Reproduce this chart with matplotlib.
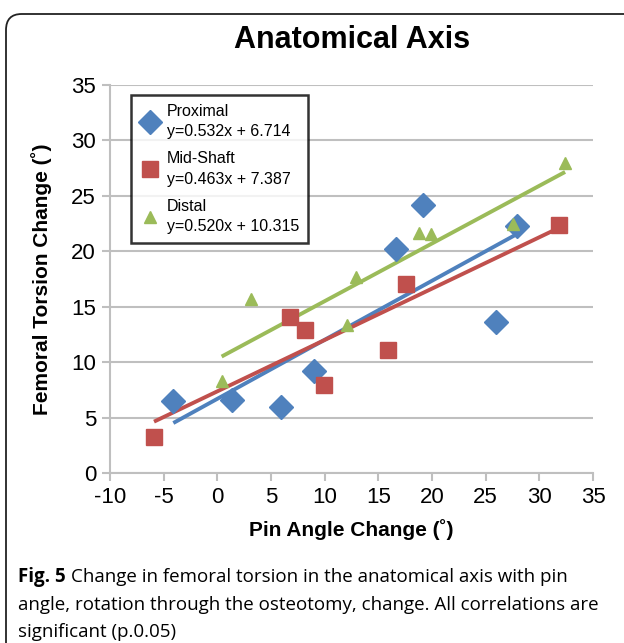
import numpy as np
import matplotlib
matplotlib.use('Agg')
import matplotlib.pyplot as plt
from matplotlib.patches import FancyBboxPatch

# data
prox_x = [-4.1, 1.4, 5.9, 9.0, 16.6, 19.2, 26.0, 27.9]
prox_y = [6.5, 6.6, 6.0, 9.2, 20.2, 24.2, 13.6, 22.3]
mid_x = [-5.9, 6.8, 8.2, 9.9, 15.9, 17.6, 31.8]
mid_y = [3.3, 14.1, 12.9, 8.0, 11.1, 17.1, 22.4]
dist_x = [0.4, 3.1, 12.1, 12.9, 18.8, 19.9, 27.5, 32.4]
dist_y = [8.3, 15.7, 13.4, 17.7, 21.7, 21.6, 22.5, 28.0]

# trendline coefficients (slope, intercept) from the legend
fits = {'Proximal': (0.532, 6.714), 'Mid-Shaft': (0.463, 7.387), 'Distal': (0.520, 10.315)}

xticks = [-10, -5, 0, 5, 10, 15, 20, 25, 30, 35]
yticks = [0, 5, 10, 15, 20, 25, 30, 35]

blue = '#4F81BD'
red = '#C0504D'
green = '#9BBB59'
grid_c = '#BFBFBF'

plt.rcParams['font.family'] = ['Liberation Sans', 'DejaVu Sans']
plt.rcParams['axes.unicode_minus'] = False

fig = plt.figure(figsize=(6.24, 6.43), dpi=100)

# rounded frame around whole figure
frame = FancyBboxPatch((6 / 624, -20 / 643), 640 / 624, (643 - 11 + 17) / 643,
                       boxstyle='round,pad=0,rounding_size=0.025',
                       transform=fig.transFigure, fill=False,
                       edgecolor='#222222', linewidth=1.3)
fig.patches.append(frame)

ax = fig.add_axes([110 / 624, 1 - 473.3 / 643, 483 / 624, 388.3 / 643])

series = [
    ('Proximal', prox_x, prox_y, blue, 'D', 12.5),
    ('Mid-Shaft', mid_x, mid_y, red, 's', 11),
    ('Distal', dist_x, dist_y, green, '^', 9),
]
handles = []
for name, xs, ys, c, m, ms in series:
    slope, icpt = fits[name]
    xl = np.array([min(xs), max(xs)])
    ax.plot(xl, slope * xl + icpt, color=c, lw=2.8, zorder=2, solid_capstyle='butt')
    h, = ax.plot(xs, ys, linestyle='none', marker=m, markersize=ms, color=c,
                 markeredgecolor=c, zorder=3,
                 label='%s\ny=%.3fx + %.3f' % (name, slope, icpt))
    handles.append(h)

ax.set_xlim(-10, 35)
ax.set_ylim(0, 35)
ax.set_xticks(xticks)
ax.set_yticks(yticks)
ax.tick_params(axis='both', labelsize=16, color=grid_c, width=1.5, length=6, pad=4)
ax.yaxis.grid(True, color=grid_c, lw=1.5)
ax.set_axisbelow(True)
for s in ['top', 'right']:
    ax.spines[s].set_visible(False)
for s in ['left', 'bottom']:
    ax.spines[s].set_color(grid_c)
    ax.spines[s].set_linewidth(1.5)

ax.set_xlabel('Pin Angle Change (˚)', fontsize=15, fontweight='bold', labelpad=8)
ax.set_ylabel('Femoral Torsion Change (˚)', fontsize=15, fontweight='bold', labelpad=14)

leg = ax.legend(handles=handles, loc='upper left', bbox_to_anchor=(0.043, 0.974),
                borderaxespad=0, fontsize=11.5, frameon=True, fancybox=False,
                handletextpad=0.4, borderpad=0.55, labelspacing=0.75, handlelength=1.3)
leg.get_frame().set_edgecolor('black')
leg.get_frame().set_linewidth(1.8)
for t in leg.get_texts():
    t.set_linespacing(1.45)

fig.text(352 / 624, 1 - 40 / 643, 'Anatomical Axis', ha='center', va='center',
         fontsize=22, fontweight='bold')

# caption with bold "Fig. 5"
cap_font = ['Open Sans', 'DejaVu Sans']
fig.canvas.draw()
r = fig.canvas.get_renderer()
y1 = 1 - 577 / 643
t = fig.text(18 / 624, y1, 'Fig. 5', fontsize=13.5, fontweight='bold',
             family=cap_font, va='center')
bb = t.get_window_extent(r)
fig.text(bb.x1 / 624 + 5 / 624, y1, 'Change in femoral torsion in the anatomical axis with pin',
         fontsize=13.5, family=cap_font, va='center')
fig.text(18 / 624, 1 - 605 / 643,
         'angle, rotation through the osteotomy, change. All correlations are',
         fontsize=13.5, family=cap_font, va='center')
fig.text(18 / 624, 1 - 632 / 643, 'significant (p.0.05)',
         fontsize=13.5, family=cap_font, va='center')

fig.savefig('out.png', dpi=100)
